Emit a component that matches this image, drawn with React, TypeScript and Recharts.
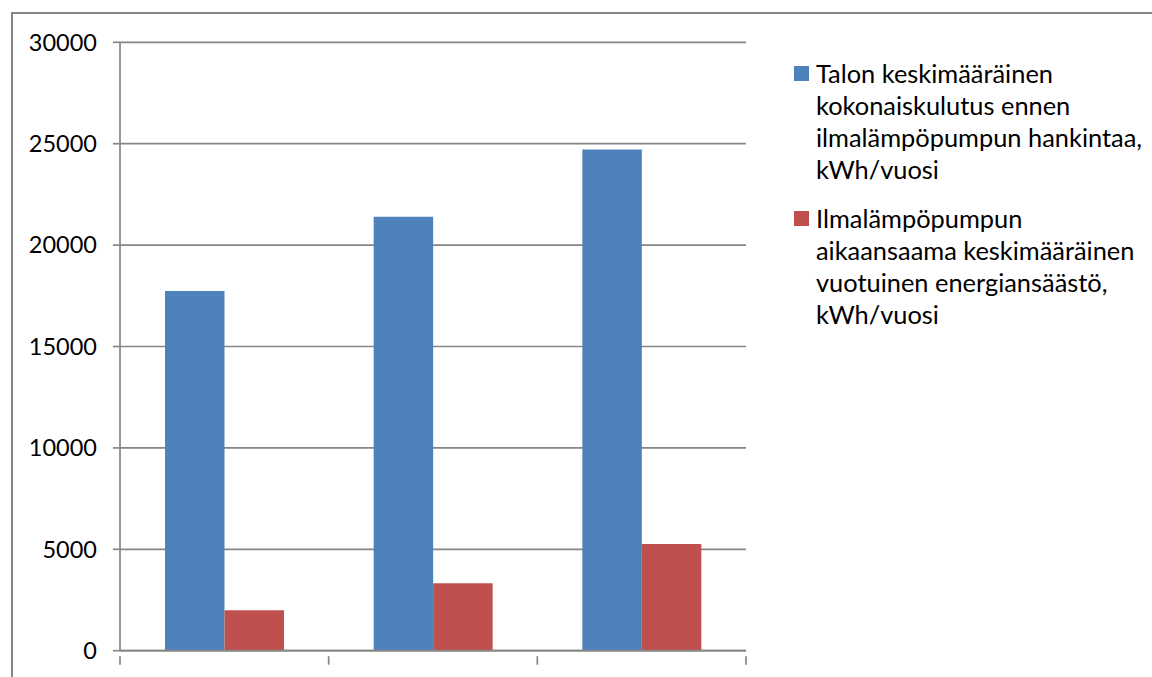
import React from 'react';
import { BarChart, Bar, XAxis, YAxis, CartesianGrid, Legend } from 'recharts';

const categories = ['Ryhmä 1', 'Ryhmä 2', 'Ryhmä 3'];
const totalConsumption = [17740, 21400, 24720];
const heatPumpSavings = [2000, 3320, 5260];
const yTicks = [0, 5000, 10000, 15000, 20000, 25000, 30000];
const seriesLines = [
  ['Talon keskimääräinen', 'kokonaiskulutus ennen', 'ilmalämpöpumpun hankintaa,', 'kWh/vuosi'],
  ['Ilmalämpöpumpun', 'aikaansaama keskimääräinen', 'vuotuinen energiansäästö,', 'kWh/vuosi'],
];
const seriesColors = ['#4F81BD', '#C0504D'];

const data = categories.map((name, i) => ({
  name,
  total: totalConsumption[i],
  savings: heatPumpSavings[i],
}));

const GRAY = '#868686';
const FONT = 23.5;
const LEGEND_FONT = 25.4;

const LegendContent = () => (
  <div style={{ fontFamily: 'Lato', fontSize: LEGEND_FONT, color: '#000', lineHeight: '32px' }}>
    {seriesLines.map((lines, i) => (
      <div key={i} style={{ display: 'flex', alignItems: 'flex-start', marginBottom: i === 0 ? 16.5 : 0 }}>
        <div style={{ width: 15, height: 15, background: seriesColors[i], marginTop: 9, marginRight: 7, flex: '0 0 auto' }} />
        <div>
          {lines.map((l, j) => (
            <div key={j} style={{ whiteSpace: 'nowrap' }}>{l}</div>
          ))}
        </div>
      </div>
    ))}
  </div>
);

const EdgeTick = (props: any) => {
  const { x, y, payload, index, visibleTicksCount } = props;
  const half = payload && payload.offset ? payload.offset : 0;
  const lines = [x - half];
  if (index === visibleTicksCount - 1) lines.push(x + half);
  return (
    <g>
      {lines.map((lx, i) => (
        <line key={i} x1={lx} x2={lx} y1={y - 0.5} y2={y + 8} stroke={GRAY} strokeWidth={1.7} />
      ))}
    </g>
  );
};

export default function App() {
  return (
    <div style={{ position: 'relative', width: 1152, height: 677, overflow: 'hidden', background: '#fff', fontFamily: 'Lato' }}>
      <style>{`html,body{margin:0;padding:0;overflow:hidden;background:#fff;}`}</style>
      <div style={{ position: 'absolute', left: 11, top: 12, width: 1141, height: 2, background: GRAY }} />
      <div style={{ position: 'absolute', left: 11, top: 12, width: 2, height: 665, background: GRAY }} />
      <div style={{ position: 'absolute', left: 0, top: 0 }}>
        <BarChart
          width={1152}
          height={677}
          data={data}
          margin={{ top: 42.3, right: 406, bottom: 18.3, left: 20 }}
          barGap={0}
          barSize={59.5}
        >
          <CartesianGrid vertical={false} stroke={GRAY} strokeWidth={1.7} />
          <XAxis
            dataKey="name"
            height={8}
            interval={0}
            tickLine={false}
            tickMargin={0}
            tick={<EdgeTick />}
            axisLine={{ stroke: GRAY, strokeWidth: 1.7 }}
          />
          <YAxis
            width={100}
            domain={[0, 30000]}
            ticks={yTicks}
            interval={0}
            tickSize={7}
            tickMargin={16}
            tick={{ fill: '#000', fontSize: FONT, fontFamily: 'Lato' }}
            axisLine={{ stroke: GRAY, strokeWidth: 1.7 }}
            tickLine={{ stroke: GRAY, strokeWidth: 1.7 }}
          />
          <Legend
            layout="horizontal"
            verticalAlign="middle"
            align="center"
            content={<LegendContent />}
            wrapperStyle={{ left: 794, top: 57, width: 356 }}
          />
          <Bar dataKey="total" name={seriesLines[0].join(' ')} fill={seriesColors[0]} isAnimationActive={false} />
          <Bar dataKey="savings" name={seriesLines[1].join(' ')} fill={seriesColors[1]} isAnimationActive={false} />
        </BarChart>
      </div>
    </div>
  );
}
